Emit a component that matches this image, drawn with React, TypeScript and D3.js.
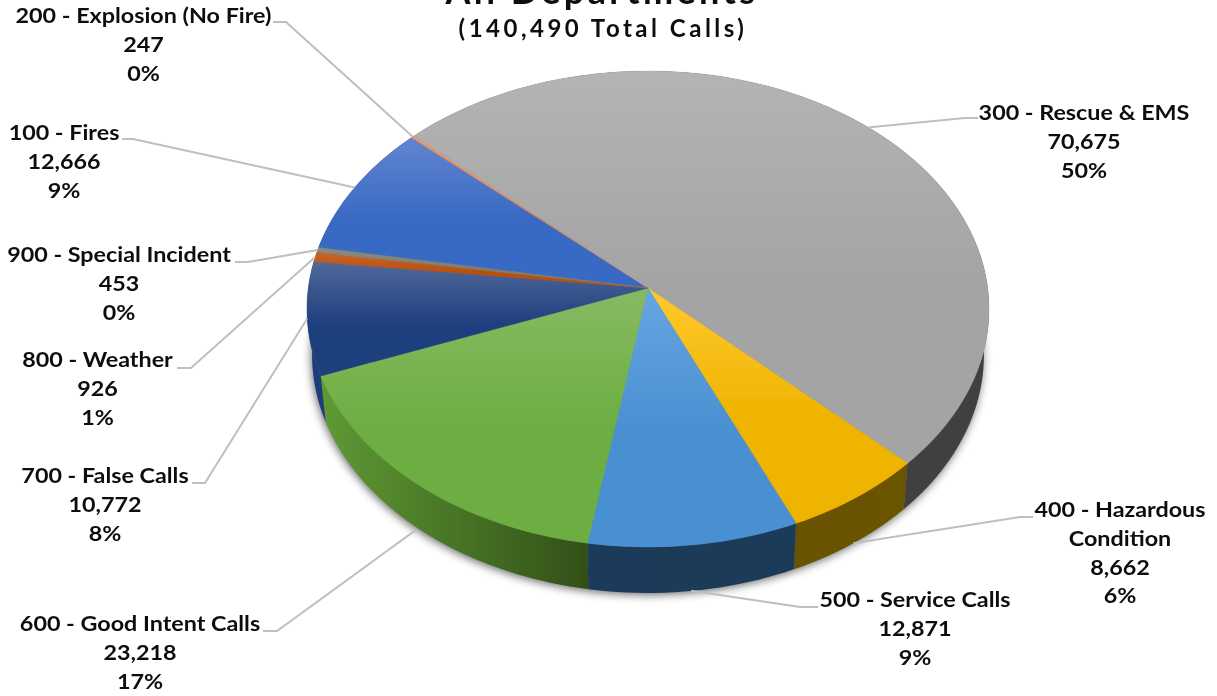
import React from 'react'
import * as d3 from 'd3'

const categories = ['100 - Fires', '200 - Explosion (No Fire)', '300 - Rescue & EMS', '400 - Hazardous Condition', '500 - Service Calls', '600 - Good Intent Calls', '700 - False Calls', '800 - Weather', '900 - Special Incident']
const calls = [12666, 247, 70675, 8662, 12871, 23218, 10772, 926, 453]
const percents = ['9%', '0%', '50%', '6%', '9%', '17%', '8%', '1%', '0%']

// top face and side wall colours, one per slice
const topLight = ['#6285d0', '#f09a68', '#b4b4b4', '#ffc92e', '#66a6e2', '#86bb62', '#50699a', '#c9652c', '#8a8a80']
const topDark = ['#3869c4', '#e58a55', '#a4a4a4', '#efb400', '#4a90d2', '#6dae42', '#1f3f7e', '#b8500f', '#7d7d70']
const wallLeft = ['#2c4a85', '#8a4a20', '#444444', '#6b5200', '#1c3a5a', '#5f9a34', '#1d3c78', '#6e3208', '#444444']
const wallRight = ['#2c4a85', '#8a4a20', '#404040', '#6b5400', '#1c3a58', '#324f18', '#1d3c78', '#6e3208', '#444444']

// label anchor (centre x, first baseline) and leader elbow, by slice
const labelX = [64, 143.5, 1084, 1120, 915, 140, 105, 97.5, 119]
const labelY = [140, 23, 120, 517, 607, 631, 483, 367, 262]
const leaderFrom = [[122, 139], [273, 22], [978, 118], [1033, 517], [818, 607], [263, 631], [192, 483], [177, 368], [235, 262]]
const leaderElbow = [[133, 139], [286, 22], [965, 118], [1020, 517], [800, 607], [277, 631], [205, 483], [191, 368], [248, 262]]
const onWall = [false, false, false, true, true, true, false, false, false]

const width = 1217
const height = 696
const apexX = 648
const apexY = 288
const radiusX = 339.7
const radiusY = 236.1
const tilt = 0.0882
const depth = 46
const lowerShrink = 0.985
const rad = Math.PI / 180

// perspective view of the unit circle, so the apex sits above the ellipse centre
const project = (angle, lower = false) => {
  const u = Math.sin(angle)
  const v = Math.cos(angle)
  const w = 1 + tilt * v
  const x = apexX + (radiusX * u / w) * (lower ? lowerShrink : 1)
  const y = apexY - radiusY * v / w + (lower ? depth : 0)
  return [x, y]
}

const sampleArc = (a0, a1) => {
  const n = Math.max(2, Math.ceil(Math.abs(a1 - a0) / (rad * 1.5)))
  const t = d3.scaleLinear().domain([0, n]).range([a0, a1])
  return d3.range(n + 1).map(i => t(i))
}

export default function App() {
  const slices = d3.pie().sort(null).startAngle(-80 * rad).endAngle(280 * rad)(calls)
  const line = d3.line()
  const fmt = d3.format(',')
  const font = 'Lato, Carlito, sans-serif'

  const rim = sampleArc(0, 2 * Math.PI)

  return (
    <svg width={width} height={height} style={{position: 'absolute', left: 0, top: 0, background: '#fff'}}>
      <defs>
        <filter id="soft" x="-10%" y="-10%" width="120%" height="120%">
          <feGaussianBlur stdDeviation="4" />
        </filter>
        <filter id="paper" x="0" y="0" width="100%" height="100%">
          <feGaussianBlur stdDeviation="0.5" />
        </filter>
        {slices.map((s, i) => (
          <React.Fragment key={i}>
            <linearGradient id={`top${i}`} x1="0" y1="0" x2="0" y2="1">
              <stop offset="0" stopColor={topLight[i]} />
              <stop offset="0.55" stopColor={topDark[i]} />
              <stop offset="1" stopColor={topDark[i]} />
            </linearGradient>
            <linearGradient id={`wall${i}`} x1="0" y1="0" x2="1" y2="0">
              <stop offset="0" stopColor={wallLeft[i]} />
              <stop offset="1" stopColor={wallRight[i]} />
            </linearGradient>
          </React.Fragment>
        ))}
      </defs>

      <g filter="url(#paper)">
        <path
          d={line(rim.map(a => project(a, true))) + 'Z'}
          fill="#3c3c3c"
          opacity={0.75}
          filter="url(#soft)"
          transform="translate(-1, 2)"
        />

        <g id="walls">
          {slices.map((s, i) => {
            const arc = sampleArc(s.startAngle, s.endAngle)
            const pts = arc.map(a => project(a)).concat(arc.slice().reverse().map(a => project(a, true)))
            return <path key={i} d={line(pts) + 'Z'} fill={`url(#wall${i})`} />
          })}
        </g>

        <g id="faces">
          {slices.map((s, i) => {
            const arc = sampleArc(s.startAngle, s.endAngle)
            const pts = [[apexX, apexY]].concat(arc.map(a => project(a)))
            return <path key={i} d={line(pts) + 'Z'} fill={`url(#top${i})`} stroke={`url(#top${i})`} strokeWidth={0.4} />
          })}
        </g>

        <g id="leaders" fill="none" stroke="#bfbfbf" strokeWidth={2}>
          {slices.map((s, i) => {
            const mid = (s.startAngle + s.endAngle) / 2
            const end = project(mid, false)
            const target = onWall[i] ? [end[0] - 3, end[1] + depth] : end
            return <path key={i} d={line([leaderFrom[i], leaderElbow[i], target])} />
          })}
        </g>

        {/* source image is stretched sideways, so the glyphs are widened to match */}
        <g id="labels" fontFamily={font} fontWeight={700} fontSize={21.5} fill="#111" textAnchor="middle">
          {categories.map((c, i) => {
            const head = i === 3 ? ['400 - Hazardous', 'Condition'] : [c]
            const rows = head.concat([fmt(calls[i]), percents[i]])
            return (
              <text key={i} transform={`translate(${labelX[i]},${labelY[i]}) scale(1.085,1)`}>
                {rows.map((r, j) => (
                  <tspan key={j} x={0} y={j * 28.8}>{r}</tspan>
                ))}
              </text>
            )
          })}
        </g>

        <g id="title" fontFamily={font} fontWeight={700} fill="#111" textAnchor="middle">
          <text x={602} y={4} fontSize={36} letterSpacing={3.4}>All Departments</text>
          <text x={603} y={37} fontSize={24} letterSpacing={3.5}>(140,490 Total Calls)</text>
        </g>
      </g>
    </svg>
  )
}
